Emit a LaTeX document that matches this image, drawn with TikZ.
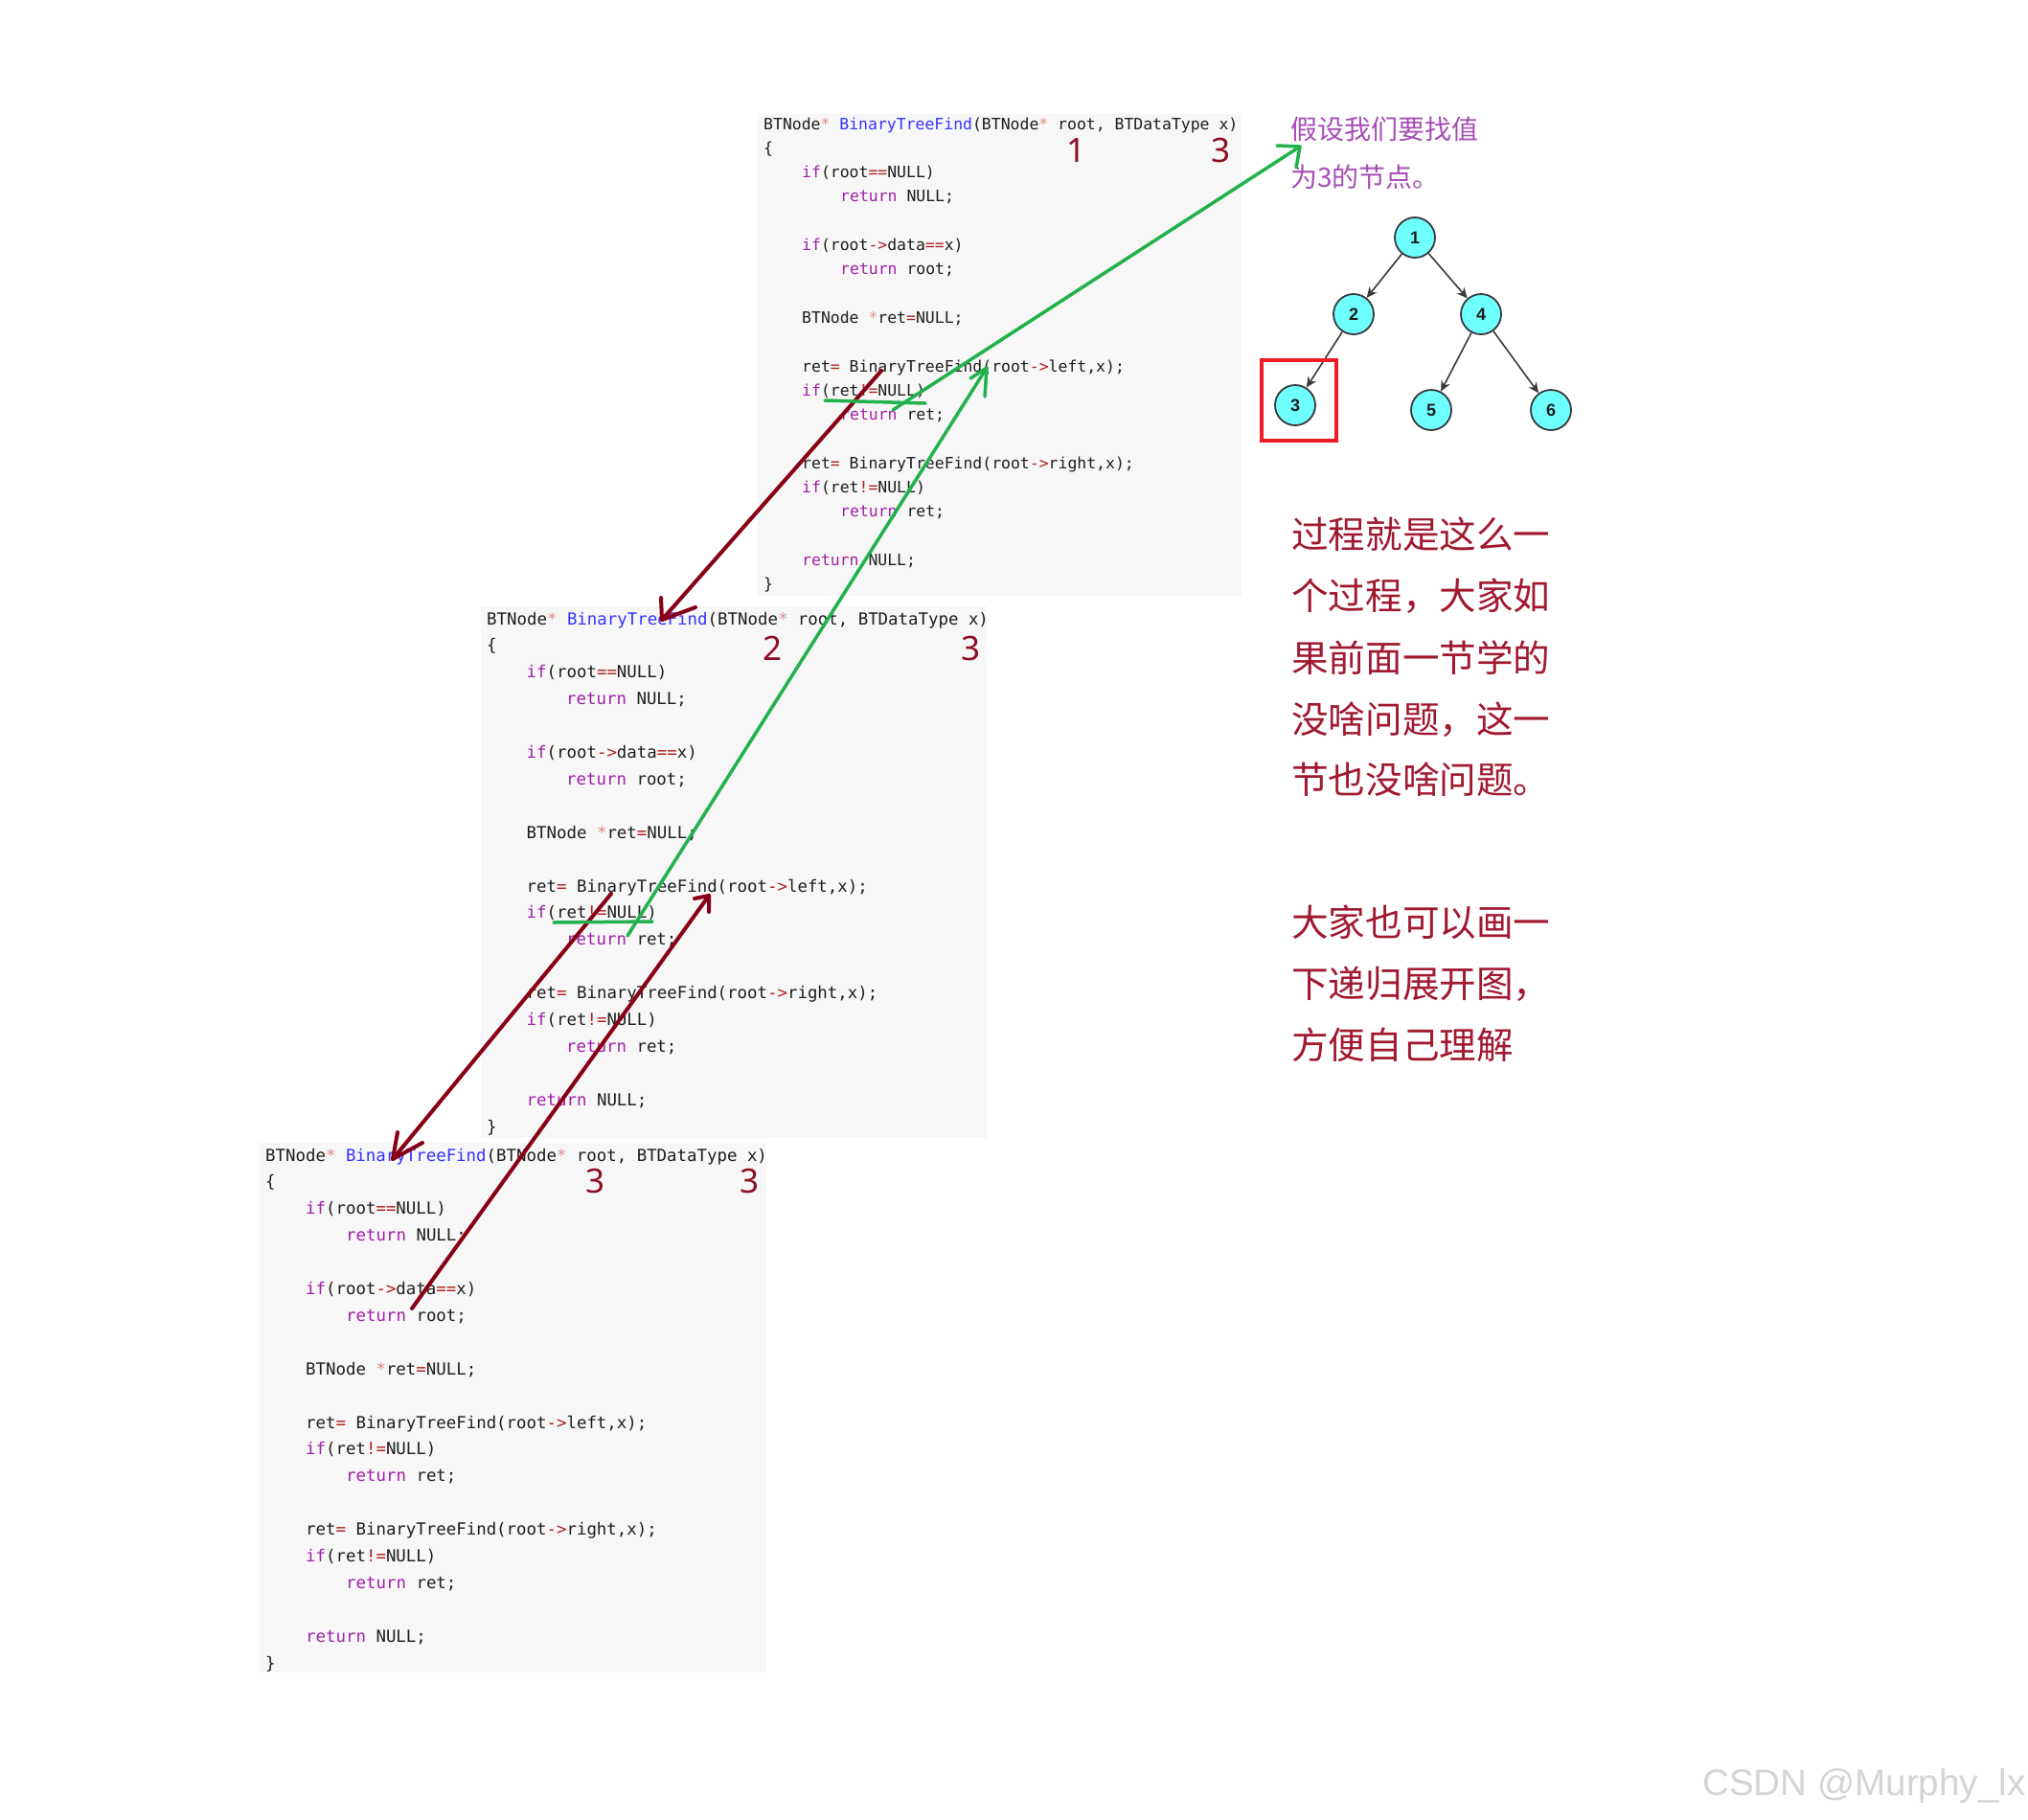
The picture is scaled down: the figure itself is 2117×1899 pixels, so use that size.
\documentclass[tikz,border=0pt]{standalone}
\usepackage{fontspec}
\usetikzlibrary{arrows.meta}
\setmainfont{Noto Sans}
\newfontfamily\codeA{DejaVu Sans Mono}
\newfontfamily\cjkfont{Noto Sans CJK SC}
\newfontfamily\wmfont{Liberation Sans}
\newfontfamily\treefont{Liberation Sans}
\definecolor{codebg}{HTML}{F7F7F7}
\definecolor{kwc}{HTML}{A020A8}
\definecolor{fnc}{HTML}{3434FF}
\definecolor{opc}{HTML}{B02020}
\definecolor{starc}{HTML}{E08A8A}
\definecolor{txtc}{HTML}{1E1E1E}
\definecolor{numc}{HTML}{8C0F24}
\definecolor{penred}{HTML}{880015}
\definecolor{pengreen}{HTML}{22B14C}
\definecolor{purp}{HTML}{A64DB6}
\definecolor{notec}{HTML}{A0192F}
\definecolor{nodefill}{HTML}{6EFFFF}
\definecolor{nodeline}{HTML}{3A3A3A}
\definecolor{boxred}{HTML}{ED1C24}
\definecolor{wmc}{HTML}{D4D4D4}
\newcommand\kw[1]{\textcolor{kwc}{#1}}
\newcommand\fn[1]{\textcolor{fnc}{#1}}
\newcommand\op[1]{\textcolor{opc}{#1}}
\newcommand\stc{\textcolor{starc}{*}}
\newcommand\spc{\hspace*{\spw}}
\newcommand\codeln[4]{\node[codetxt] (#1) at ({\bx+#3},{\by+#2*\lh}) {#4};}
\newcommand\codeblock[8]{%
 \def\bx{#2}\def\by{#3}\def\lh{#4}\def\spw{#8}%
 \tikzset{codetxt/.style={anchor=base west,inner sep=0pt,text=txtc,font=#7}}%
 \codeln{#1l0}{0}{0}{BTNode\stc\spc\fn{BinaryTreeFind}(BTNode\stc\spc root,\spc BTDataType\spc x)}%
 \codeln{#1l1}{1}{0}{\{}%
 \codeln{#1l2}{2}{#5}{\kw{if}(root\op{==}NULL)}%
 \codeln{#1l3}{3}{#6}{\kw{return}\spc NULL;}%
 \codeln{#1l5}{5}{#5}{\kw{if}(root\op{->}data\op{==}x)}%
 \codeln{#1l6}{6}{#6}{\kw{return}\spc root;}%
 \codeln{#1l8}{8}{#5}{BTNode\spc\stc ret\op{=}NULL;}%
 \codeln{#1l10}{10}{#5}{ret\op{=}\spc BinaryTreeFind(root\op{->}left,x);}%
 \codeln{#1l11}{11}{#5}{\kw{if}(ret\op{!=}NULL)}%
 \codeln{#1l12}{12}{#6}{\kw{return}\spc ret;}%
 \codeln{#1l14}{14}{#5}{ret\op{=}\spc BinaryTreeFind(root\op{->}right,x);}%
 \codeln{#1l15}{15}{#5}{\kw{if}(ret\op{!=}NULL)}%
 \codeln{#1l16}{16}{#6}{\kw{return}\spc ret;}%
 \codeln{#1l18}{18}{#5}{\kw{return}\spc NULL;}%
 \codeln{#1l19}{19}{0}{\}}%
}
\tikzset{
  bignum/.style={inner sep=0pt,text=numc,font=\fontsize{35}{35}\selectfont},
  tnode/.style={circle,draw=nodeline,fill=nodefill,line width=1.8pt,minimum size=42pt,inner sep=0pt,text=txtc,font=\treefont\bfseries\fontsize{18}{18}\selectfont},
  tarrow/.style={draw=nodeline,line width=1.6pt,-{Stealth[length=11pt,width=10pt]}},
  redpen/.style={draw=penred,line width=4pt,line cap=round,line join=round},
  greenpen/.style={draw=pengreen,line width=3.5pt,line cap=round,line join=round},
  purptxt/.style={anchor=west,inner sep=0pt,text=purp,font=\cjkfont\fontsize{28}{28}\selectfont},
  notetxt/.style={anchor=west,inner sep=0pt,text=notec,font=\cjkfont\fontsize{38.6}{38.6}\selectfont},
  wm/.style={anchor=base west,inner sep=0pt,text=wmc,font=\wmfont\fontsize{38.6}{38.6}\selectfont}
}
\begin{document}
\begin{tikzpicture}[x=1pt,y=-1pt]
\useasboundingbox (0,0) rectangle (2117,1899);
\fill[white] (0,0) rectangle (2117,1899);
% code backgrounds
\fill[codebg] (791,119) rectangle (1296,622);
\fill[codebg] (502,633) rectangle (1030,1188);
\fill[codebg] (271,1193) rectangle (800,1746);
% code text
\codeblock{a}{797}{135}{25.3}{40}{80}{\codeA\fontsize{16.45}{16.45}\selectfont}{9.9pt}
\codeblock{b}{508}{652}{27.9}{41.5}{83}{\codeA\fontsize{17.4}{17.4}\selectfont}{10.475pt}
\codeblock{c}{277}{1212}{27.9}{42}{84}{\codeA\fontsize{17.4}{17.4}\selectfont}{10.475pt}
% big handwritten numbers
\node[bignum] (na1) at (1123,157) {1};
\node[bignum] (na2) at (1274,157) {3};
\node[bignum] (nb1) at (806,677) {2};
\node[bignum] (nb2) at (1013,677) {3};
\node[bignum] (nc1) at (622,1233) {3};
\node[bignum] (nc2) at (782,1233) {3};
% tree
\node[tnode] (t1) at (1477,248) {1};
\node[tnode] (t2) at (1413,328) {2};
\node[tnode] (t4) at (1546,328) {4};
\node[tnode] (t3) at (1352,423) {3};
\node[tnode] (t5) at (1494,428) {5};
\node[tnode] (t6) at (1619,428) {6};
\draw[tarrow] (t1) -- (t2);
\draw[tarrow] (t1) -- (t4);
\draw[tarrow] (t2) -- (t3);
\draw[tarrow] (t4) -- (t5);
\draw[tarrow] (t4) -- (t6);
\draw[boxred,line width=3.5pt] (1317,376) rectangle (1395,460);
% purple text
\node[purptxt] (p1) at (1347,135) {假设我们要找值};
\node[purptxt] (p2) at (1347,185) {为3的节点。};
% notes
\node[notetxt] (m1) at (1348,558) {过程就是这么一};
\node[notetxt] (m2) at (1348,622) {个过程，大家如};
\node[notetxt] (m3) at (1348,687) {果前面一节学的};
\node[notetxt] (m4) at (1348,751) {没啥问题，这一};
\node[notetxt] (m5) at (1348,814) {节也没啥问题。};
\node[notetxt] (m6) at (1348,963) {大家也可以画一};
\node[notetxt] (m7) at (1348,1027) {下递归展开图，};
\node[notetxt] (m8) at (1348,1091) {方便自己理解};
% hand-drawn pen strokes
\coordinate (r1s) at (920,387); \coordinate (r1t) at (691,647);
\coordinate (r1a) at (690,624); \coordinate (r1b) at (726,634);
\coordinate (r2s) at (638,933); \coordinate (r2t) at (410,1210);
\coordinate (r2a) at (415,1182); \coordinate (r2b) at (441,1193);
\coordinate (r3s) at (430,1366); \coordinate (r3t) at (740,935);
\coordinate (r3a) at (725,938); \coordinate (r3b) at (740,952);
\coordinate (g1s) at (655,977); \coordinate (g1t) at (1030,384);
\coordinate (g1a) at (1013,395); \coordinate (g1b) at (1028,414);
\coordinate (g1u) at (578,963); \coordinate (g1v) at (681,962);
\coordinate (g2s) at (932,428); \coordinate (g2t) at (1357,153);
\coordinate (g2a) at (1333,152); \coordinate (g2b) at (1353,175);
\coordinate (g2u) at (861,418); \coordinate (g2v) at (966,421);
\draw[redpen] (r1s) -- (r1t);
\draw[redpen] (r1a) -- (r1t) -- (r1b);
\draw[redpen] (r2s) -- (r2t);
\draw[redpen] (r2a) -- (r2t) -- (r2b);
\draw[redpen] (r3s) -- (r3t);
\draw[redpen] (r3a) -- (r3t) -- (r3b);
\draw[greenpen] (g1u) -- (g1v);
\draw[greenpen] (g1s) -- (g1t);
\draw[greenpen] (g1a) -- (g1t) -- (g1b);
\draw[greenpen] (g2u) -- (g2v);
\draw[greenpen] (g2s) -- (g2t);
\draw[greenpen] (g2a) -- (g2t) -- (g2b);
% watermark
\node[wm] (wmk) at (1777,1874) {CSDN @Murphy\_lx};
\end{tikzpicture}
\end{document}
